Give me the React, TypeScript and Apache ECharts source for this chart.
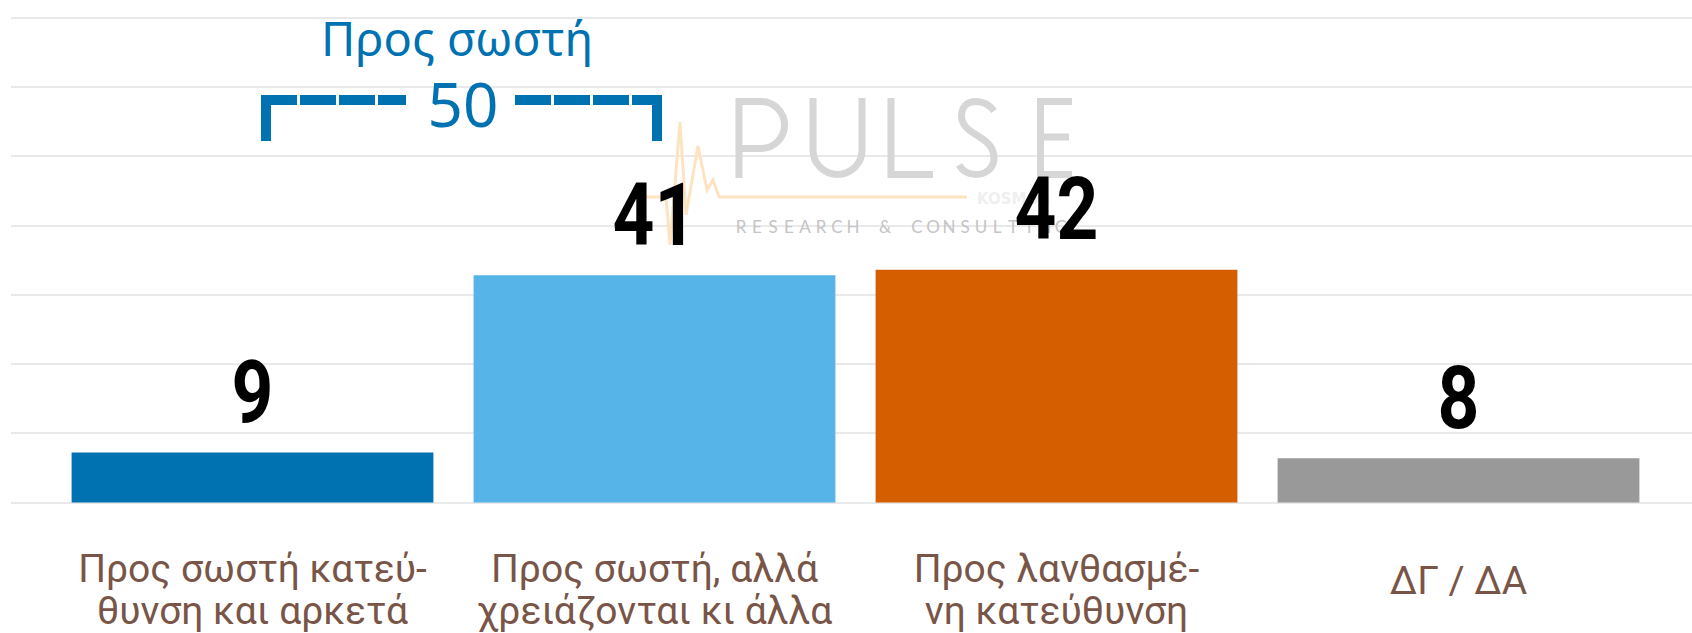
import React, { useEffect, useRef } from "react";
import * as echarts from "echarts";

const categories = [
  "Προς σωστή κατεύ-\nθυνση και αρκετά",
  "Προς σωστή, αλλά\nχρειάζονται κι άλλα",
  "Προς λανθασμέ-\nνη κατεύθυνση",
  "ΔΓ / ΔΑ",
];
const values = [9, 41, 42, 8];
const barColors = ["#0072B2", "#56B4E9", "#D55E00", "#999999"];
const yMax = 87.5;
const yInterval = 12.5;
const bracketTitle = "Προς σωστή";
const bracketValue = "50";
const watermarkSub = "RESEARCH & CONSULTING";

const W = 1692;
const H = 633;
const GRID_TOP = 17.5;
const GRID_BOTTOM = 130.5;

const logoPaths: Record<string, string> = {
  pulseP: "M739 178 V101.5 H761 A23.5 23.5 0 0 1 761 148.5 H739",
  pulseU: "M813 98 V150 A24.5 24.5 0 0 0 862 150 V98",
  pulseL: "M891 98 V174.5 H933",
  pulseS:
    "M994 111 C988 103 982 101.5 976 101.5 C966 101.5 961.5 108 961.5 116 C961.5 126 970 131 978 136 C988 142 994 148 994 158 C994 168 986 174.5 976 174.5 C968 174.5 962 170 959 165",
  pulseE: "M1072 101.5 H1040.5 V174.5 H1072 M1040.5 137 H1069",
};
let registered = false;
function registerLogo() {
  if (registered) return;
  registered = true;
  Object.keys(logoPaths).forEach((k) => {
    echarts.graphic.registerShape(k, echarts.graphic.extendPath(logoPaths[k], {}) as any);
  });
}

export default function App() {
  const ref = useRef<HTMLDivElement>(null);
  useEffect(() => {
    if (!ref.current) return;
    registerLogo();
    const chart = echarts.init(ref.current, undefined, { renderer: "svg" });
    const blue = "#0072B2";
    const logoStyle = { stroke: "#d6d6d6", lineWidth: 7, fill: "none" };
    const subChars = watermarkSub.split("").map((ch, i) => ({
      type: "text",
      z: 1,
      x: 741 + i * 16,
      y: 226,
      style: {
        text: ch,
        fill: "#c4c4c4",
        font: "17px Lato",
        textAlign: "center",
        textVerticalAlign: "middle",
      },
    }));
    const option: any = {
      animation: false,
      backgroundColor: "#ffffff",
      grid: [
        { left: 11, right: 0, top: GRID_TOP, bottom: GRID_BOTTOM },
        { left: 51.5, right: 32.5, top: GRID_TOP, bottom: GRID_BOTTOM },
      ],
      xAxis: [
        { type: "value", gridIndex: 0, min: 0, max: 1, show: false },
        {
          type: "category",
          gridIndex: 1,
          data: categories.map((c) =>
            c === "ΔΓ / ΔΑ" ? { value: c, textStyle: { padding: [12, 0, 0, 0] } } : c
          ),
          axisLine: { show: false },
          axisTick: { show: false },
          axisLabel: {
            interval: 0,
            margin: 45,
            color: "#795548",
            fontFamily: "Roboto",
            fontSize: 39,
            lineHeight: 42,
            verticalAlign: "top",
          },
        },
      ],
      yAxis: [
        {
          type: "value",
          gridIndex: 0,
          min: 0,
          max: yMax,
          interval: yInterval,
          axisLabel: { show: false },
          axisLine: { show: false },
          axisTick: { show: false },
          splitLine: { show: true, lineStyle: { color: "#e9e9e9", width: 2 } },
        },
        {
          type: "value",
          gridIndex: 1,
          min: 0,
          max: yMax,
          interval: yInterval,
          axisLabel: { show: false },
          axisLine: { show: false },
          axisTick: { show: false },
          splitLine: { show: false },
        },
      ],
      series: [
        {
          type: "bar",
          xAxisIndex: 1,
          yAxisIndex: 1,
          barCategoryGap: "10%",
          data: values.map((v, i) => ({ value: v, itemStyle: { color: barColors[i] } })),
          z: 3,
        },
        {
          type: "custom",
          xAxisIndex: 1,
          yAxisIndex: 1,
          z: 4,
          silent: true,
          data: values.map((v, i) => [i, v]),
          renderItem: (params: any, api: any) => {
            const pt = api.coord([api.value(0), api.value(1)]);
            return {
              type: "text",
              x: pt[0],
              y: pt[1] - 60,
              scaleX: 0.84,
              style: {
                text: String(api.value(1)),
                fill: "#000000",
                font: "bold 87px Roboto",
                textAlign: "center",
                textVerticalAlign: "middle",
              },
            };
          },
        },
      ],
      graphic: [
        {
          type: "polyline",
          z: 1,
          shape: {
            points: [
              [638, 197],
              [666, 197],
              [670, 245],
              [680, 122],
              [686, 215],
              [698, 146],
              [707, 190],
              [713, 180],
              [719, 197],
              [967, 197],
            ],
          },
          style: { stroke: "#fde3c0", lineWidth: 3, fill: "none" },
        },
        ...Object.keys(logoPaths).map((k) => ({
          type: k,
          z: 1,
          x: 0,
          y: 0,
          style: logoStyle,
        })),
        ...subChars,
        {
          type: "text",
          z: 1,
          x: 977,
          y: 199,
          style: {
            text: "KOSMOS",
            fill: "#efefef",
            font: "bold 15px 'DejaVu Sans'",
            textAlign: "left",
            textVerticalAlign: "middle",
          },
        },
        {
          type: "text",
          z: 5,
          x: 457,
          y: 38,
          style: {
            text: bracketTitle,
            fill: blue,
            font: "47px 'Noto Sans'",
            lineHeight: 44,
            textAlign: "center",
            textVerticalAlign: "middle",
          },
        },
        {
          type: "text",
          z: 5,
          x: 463,
          y: 103,
          style: {
            text: bracketValue,
            fill: blue,
            font: "62px 'Noto Sans'",
            lineHeight: 50,
            textAlign: "center",
            textVerticalAlign: "middle",
          },
        },
        {
          type: "line",
          z: 5,
          shape: { x1: 266, y1: 95, x2: 266, y2: 141 },
          style: { stroke: blue, lineWidth: 10 },
        },
        {
          type: "line",
          z: 5,
          shape: { x1: 261, y1: 100, x2: 406, y2: 100 },
          style: { stroke: blue, lineWidth: 10, lineDash: [36, 3] },
        },
        {
          type: "line",
          z: 5,
          shape: { x1: 515, y1: 100, x2: 662, y2: 100 },
          style: { stroke: blue, lineWidth: 10, lineDash: [36, 3] },
        },
        {
          type: "line",
          z: 5,
          shape: { x1: 657, y1: 95, x2: 657, y2: 141 },
          style: { stroke: blue, lineWidth: 10 },
        },
      ],
    };
    chart.setOption(option);
    return () => chart.dispose();
  }, []);
  return (
    <div
      ref={ref}
      style={{ position: "fixed", left: 0, top: 0, width: W, height: H, background: "#fff" }}
    />
  );
}
